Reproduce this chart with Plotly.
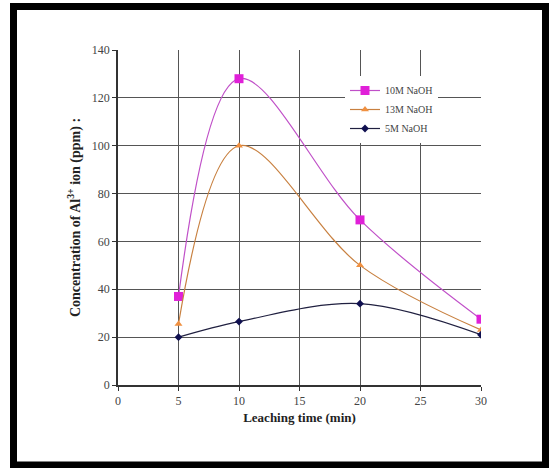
import plotly.graph_objects as go

time_min = [5, 10, 20, 30]
naoh_10m = [37, 128, 69, 27.5]
naoh_13m = [25.5, 100, 50, 23]
naoh_5m = [20, 26.5, 34, 21]

W, H = 549, 468
L, R, T, B = 118, 68, 50, 83
pw, ph = W - L - R, H - T - B

def px(x):
    return (x - L) / pw

def py(y):
    return (H - B - y) / ph

fig = go.Figure()
fig.add_trace(go.Scatter(x=time_min, y=naoh_10m, name="10M NaOH", mode="lines+markers",
                         line=dict(color="#c050c8", width=1.2, shape="spline", smoothing=1),
                         marker=dict(symbol="square", size=9, color="#e020d8")))
fig.add_trace(go.Scatter(x=time_min, y=naoh_13m, name="13M NaOH", mode="lines+markers",
                         line=dict(color="#c88040", width=1.2, shape="spline", smoothing=1),
                         marker=dict(symbol="triangle-up", size=7, color="#f09040")))
fig.add_trace(go.Scatter(x=time_min, y=naoh_5m, name="5M NaOH", mode="lines+markers",
                         line=dict(color="#202040", width=1.2, shape="spline", smoothing=1),
                         marker=dict(symbol="diamond", size=6, color="#101050")))

fig.update_layout(
    width=W, height=H,
    margin=dict(l=L, r=R, t=T, b=B),
    paper_bgcolor="white", plot_bgcolor="white",
    font=dict(family="Liberation Serif", color="#444", size=12),
    legend=dict(x=px(345), y=py(76), xanchor="left", yanchor="top",
                bgcolor="white", font=dict(size=10, color="#444"),
                tracegroupgap=0, itemwidth=30),
    shapes=[dict(type="rect", xref="paper", yref="paper",
                 x0=px(13.5), x1=px(545.5), y0=py(6.5), y1=py(465),
                 line=dict(color="black", width=7), layer="above")],
)
fig.update_xaxes(range=[0, 30], dtick=5, showgrid=True, gridcolor="#555", gridwidth=1,
                 showline=True, linecolor="#333", linewidth=1.5, ticks="outside", ticklen=4,
                 tickcolor="#333", zeroline=False,
                 title=dict(text="<b>Leaching time (min)</b>", font=dict(size=13, color="#222"), standoff=6))
fig.update_yaxes(range=[0, 140], dtick=20, showgrid=True, gridcolor="#555", gridwidth=1,
                 showline=True, linecolor="#333", linewidth=1.5, ticks="outside", ticklen=4,
                 tickcolor="#333", zeroline=False,
                 title=dict(text="<b>Concentration of Al<sup>3+</sup> ion (ppm) :</b>",
                            font=dict(size=14, color="#222"), standoff=8))

fig.write_html("out.html")
